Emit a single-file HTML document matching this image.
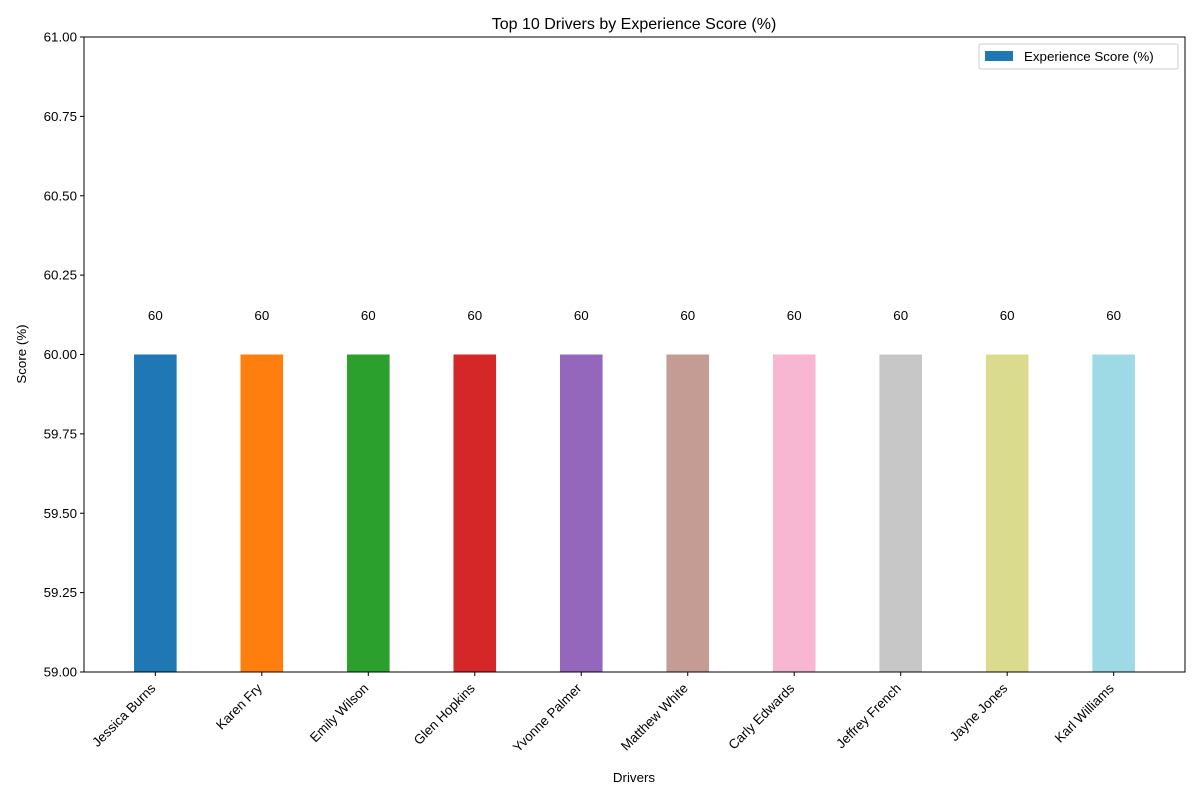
<!DOCTYPE html>
<html><head><meta charset="utf-8"><style>
html,body{margin:0;padding:0;background:#fff;}
svg{display:block;font-family:"Liberation Sans","DejaVu Sans",sans-serif;}
</style></head><body>
<svg id="chart" width="1200" height="800" viewBox="0 0 1200 800">
<text x="634" y="29" font-size="16" text-anchor="middle">Top 10 Drivers by Experience Score (%)</text>
<g id="plot"></g>
<rect x="84" y="37" width="1101" height="635" fill="none" stroke="#000" stroke-width="1"/>
<text x="634" y="782" font-size="13.33" text-anchor="middle">Drivers</text>
<text x="26" y="354" font-size="13.33" text-anchor="middle" transform="rotate(-90 26 354)">Score (%)</text>
<g>
<rect x="979" y="44" width="199" height="25" rx="2" fill="#fff" stroke="#ccc"/>
<rect x="985" y="51" width="28" height="10" fill="#1f77b4"/>
<text x="1024" y="61" font-size="13.33">Experience Score (%)</text>
</g>
</svg>
<script>
const drivers=["Jessica Burns","Karen Fry","Emily Wilson","Glen Hopkins","Yvonne Palmer","Matthew White","Carly Edwards","Jeffrey French","Jayne Jones","Karl Williams"];
const scores=[60,60,60,60,60,60,60,60,60,60];
const colors=["#1f77b4","#ff7f0e","#2ca02c","#d62728","#9467bd","#c49c94","#f7b6d2","#c7c7c7","#dbdb8d","#9edae5"];
const yTicks=[59.00,59.25,59.50,59.75,60.00,60.25,60.50,60.75,61.00];
const yMin=59,yMax=61;
const L=84,R=1185,T=37,B=672;
const xMin=-0.67,xMax=9.67;
function xs(i){return L+(i-xMin)/(xMax-xMin)*(R-L);}
function ys(v){return B-(v-yMin)/(yMax-yMin)*(B-T);}
const NS="http://www.w3.org/2000/svg";
const g=document.getElementById('plot');
function mk(t,a,txt){const e=document.createElementNS(NS,t);for(const k in a)e.setAttribute(k,a[k]);if(txt!=null)e.textContent=txt;g.appendChild(e);return e;}
const bw=0.4*(xs(1)-xs(0));
yTicks.forEach(v=>{
  const y=ys(v);
  const tk=mk('line',{x1:L-4,x2:L,y1:y,y2:y,stroke:'#000'});
  
  
  const tl=mk('text',{x:L-7,y:y+4.5,'font-size':13.33,'text-anchor':'end'},v.toFixed(2));
  
  
});
drivers.forEach((d,i)=>{
  const cx=xs(i);
  const top=ys(Math.min(Math.max(scores[i],yMin),yMax));
  const r=mk('rect',{x:cx-bw/2,y:top,width:bw,height:B-top,fill:colors[i%colors.length]});
  
  
  const vl=mk('text',{x:cx,y:ys(scores[i]+0.1)-3,'font-size':13.33,'text-anchor':'middle'},String(scores[i]));
  
  
  const tk=mk('line',{x1:cx,x2:cx,y1:B,y2:B+4,stroke:'#000'});
  
  
  const ax=cx+1,ay=B+17;
  const xl=mk('text',{x:ax,y:ay,'font-size':13.33,'text-anchor':'end',transform:'rotate(-45 '+ax+' '+ay+')'},d);
  
  
});
</script>
</body></html>
